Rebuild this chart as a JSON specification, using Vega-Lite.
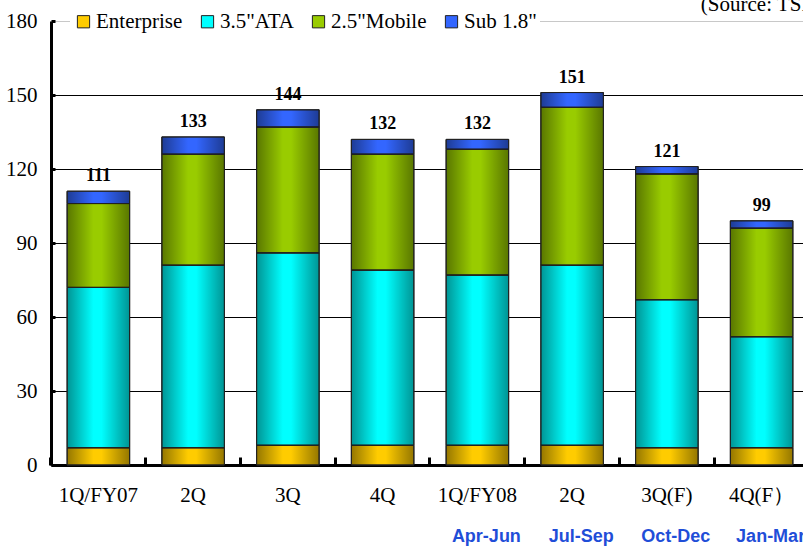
{
  "$schema": "https://vega.github.io/schema/vega-lite/v6.json",
  "width": 758,
  "height": 444,
  "autosize": {"type": "none"},
  "padding": {"left": 51, "top": 21, "right": 0, "bottom": 82},
  "background": "white",
  "config": {"view": {"stroke": null}, "font": "Liberation Serif"},
  "title": {
    "text": "(Unit: Million units)",
    "anchor": "start",
    "frame": "group",
    "offset": 6,
    "dx": -51,
    "fontSize": 21,
    "font": "Liberation Serif",
    "fontWeight": "normal",
    "color": "black"
  },
  "datasets": {
    "hdd": [
      {"quarter": "1Q/FY07", "series": "Enterprise", "order": 1, "value": 7},
      {"quarter": "1Q/FY07", "series": "3.5\"ATA", "order": 2, "value": 65},
      {"quarter": "1Q/FY07", "series": "2.5\"Mobile", "order": 3, "value": 34},
      {"quarter": "1Q/FY07", "series": "Sub 1.8\"", "order": 4, "value": 5},
      {"quarter": "2Q", "series": "Enterprise", "order": 1, "value": 7},
      {"quarter": "2Q", "series": "3.5\"ATA", "order": 2, "value": 74},
      {"quarter": "2Q", "series": "2.5\"Mobile", "order": 3, "value": 45},
      {"quarter": "2Q", "series": "Sub 1.8\"", "order": 4, "value": 7},
      {"quarter": "3Q", "series": "Enterprise", "order": 1, "value": 8},
      {"quarter": "3Q", "series": "3.5\"ATA", "order": 2, "value": 78},
      {"quarter": "3Q", "series": "2.5\"Mobile", "order": 3, "value": 51},
      {"quarter": "3Q", "series": "Sub 1.8\"", "order": 4, "value": 7},
      {"quarter": "4Q", "series": "Enterprise", "order": 1, "value": 8},
      {"quarter": "4Q", "series": "3.5\"ATA", "order": 2, "value": 71},
      {"quarter": "4Q", "series": "2.5\"Mobile", "order": 3, "value": 47},
      {"quarter": "4Q", "series": "Sub 1.8\"", "order": 4, "value": 6},
      {"quarter": "1Q/FY08", "series": "Enterprise", "order": 1, "value": 8},
      {"quarter": "1Q/FY08", "series": "3.5\"ATA", "order": 2, "value": 69},
      {"quarter": "1Q/FY08", "series": "2.5\"Mobile", "order": 3, "value": 51},
      {"quarter": "1Q/FY08", "series": "Sub 1.8\"", "order": 4, "value": 4},
      {"quarter": "2Q ", "series": "Enterprise", "order": 1, "value": 8},
      {"quarter": "2Q ", "series": "3.5\"ATA", "order": 2, "value": 73},
      {"quarter": "2Q ", "series": "2.5\"Mobile", "order": 3, "value": 64},
      {"quarter": "2Q ", "series": "Sub 1.8\"", "order": 4, "value": 6},
      {"quarter": "3Q(F)", "series": "Enterprise", "order": 1, "value": 7},
      {"quarter": "3Q(F)", "series": "3.5\"ATA", "order": 2, "value": 60},
      {"quarter": "3Q(F)", "series": "2.5\"Mobile", "order": 3, "value": 51},
      {"quarter": "3Q(F)", "series": "Sub 1.8\"", "order": 4, "value": 3},
      {"quarter": "4Q(F）", "series": "Enterprise", "order": 1, "value": 7},
      {"quarter": "4Q(F）", "series": "3.5\"ATA", "order": 2, "value": 45},
      {"quarter": "4Q(F）", "series": "2.5\"Mobile", "order": 3, "value": 44},
      {"quarter": "4Q(F）", "series": "Sub 1.8\"", "order": 4, "value": 3}
    ],
    "periods": [
      {"quarter": "1Q/FY08", "months": "Apr-Jun"},
      {"quarter": "2Q ", "months": "Jul-Sep"},
      {"quarter": "3Q(F)", "months": "Oct-Dec"},
      {"quarter": "4Q(F）", "months": "Jan-Mar"}
    ],
    "notes": [
      {"quarter": "4Q(F）", "note": "(Source: TSR)"}
    ]
  },
  "data": {"name": "hdd"},
  "encoding": {
    "x": {
      "field": "quarter",
      "type": "nominal",
      "scale": {
        "domain": ["1Q/FY07", "2Q", "3Q", "4Q", "1Q/FY08", "2Q ", "3Q(F)", "4Q(F）"],
        "paddingInner": 0.34,
        "paddingOuter": 0.17
      },
      "axis": {
        "title": null,
        "labelAngle": 0,
        "labelFont": "Liberation Serif",
        "labelFontSize": 21,
        "labelColor": "black",
        "labelPadding": 27,
        "domainColor": "black",
        "domainWidth": 3,
        "ticks": true,
        "tickColor": "black",
        "tickWidth": 3,
        "tickSize": -8,
        "bandPosition": -0.258,
        "grid": false
      }
    }
  },
  "layer": [
    {
      "transform": [
        {"stack": "value", "groupby": ["quarter"], "sort": [{"field": "order", "order": "ascending"}], "as": ["y0", "y1"]}
      ],
      "mark": {"type": "bar", "stroke": "#222", "strokeWidth": 1},
      "encoding": {
        "y": {
          "field": "y0",
          "type": "quantitative",
          "scale": {"domain": [0, 180], "nice": false},
          "axis": {
            "title": null,
            "values": [0, 30, 60, 90, 120, 150, 180],
            "labelFont": "Liberation Serif",
            "labelFontSize": 21,
            "labelColor": "black",
            "labelPadding": 18,
            "domainColor": "black",
            "domainWidth": 3,
            "tickColor": "black",
            "tickWidth": 3,
            "tickSize": -4,
            "grid": true,
            "gridWidth": 1,
            "gridColor": {"condition": {"test": "datum.value == 180", "value": "#c8c8c8"}, "value": "black"}
          }
        },
        "y2": {"field": "y1"},
        "color": {
          "field": "series",
          "type": "nominal",
          "scale": {
            "domain": ["Enterprise", "3.5\"ATA", "2.5\"Mobile", "Sub 1.8\""],
            "range": ["#FFCC00", "#00FFFF", "#99CC00", "#3366FF"]
          },
          "legend": {
            "title": null,
            "orient": "none",
            "direction": "horizontal",
            "legendX": 19,
            "legendY": -13,
            "padding": 3,
            "fillColor": "white",
            "symbolType": "square",
            "symbolSize": 150,
            "symbolStrokeColor": "#222",
            "symbolStrokeWidth": 1,
            "symbolOpacity": 1,
            "labelFont": "Liberation Serif",
            "labelFontSize": 21,
            "labelColor": "black",
            "labelOffset": 2,
            "columnPadding": 14
          }
        }
      }
    },
    {
      "transform": [
        {"stack": "value", "groupby": ["quarter"], "sort": [{"field": "order", "order": "ascending"}], "as": ["y0", "y1"]}
      ],
      "mark": {
        "type": "bar",
        "stroke": "#222",
        "strokeWidth": 1,
        "fill": {
          "gradient": "linear",
          "x1": 0, "y1": 0, "x2": 1, "y2": 0,
          "stops": [
            {"offset": 0, "color": "rgba(0,0,0,0.42)"},
            {"offset": 0.42, "color": "rgba(0,0,0,0)"},
            {"offset": 0.55, "color": "rgba(0,0,0,0)"},
            {"offset": 1, "color": "rgba(0,0,0,0.42)"}
          ]
        }
      },
      "encoding": {
        "y": {"field": "y0", "type": "quantitative"},
        "y2": {"field": "y1"}
      }
    },
    {
      "transform": [
        {"aggregate": [{"op": "sum", "field": "value", "as": "total"}], "groupby": ["quarter"]}
      ],
      "mark": {"type": "text", "font": "Liberation Serif", "fontWeight": "bold", "fontSize": 18, "baseline": "alphabetic", "dy": -10, "color": "black"},
      "encoding": {
        "y": {"field": "total", "type": "quantitative"},
        "text": {"field": "total", "type": "quantitative"}
      }
    },
    {
      "data": {"name": "periods"},
      "mark": {"type": "text", "font": "Liberation Sans", "fontWeight": "bold", "fontSize": 18, "color": "#1F4ED8", "baseline": "middle", "dx": 9},
      "encoding": {
        "y": {"datum": -29},
        "text": {"field": "months"}
      }
    },
    {
      "data": {"name": "notes"},
      "mark": {"type": "text", "font": "Liberation Serif", "fontSize": 21, "color": "black", "baseline": "alphabetic"},
      "encoding": {
        "y": {"datum": 184},
        "text": {"field": "note"}
      }
    }
  ]
}
